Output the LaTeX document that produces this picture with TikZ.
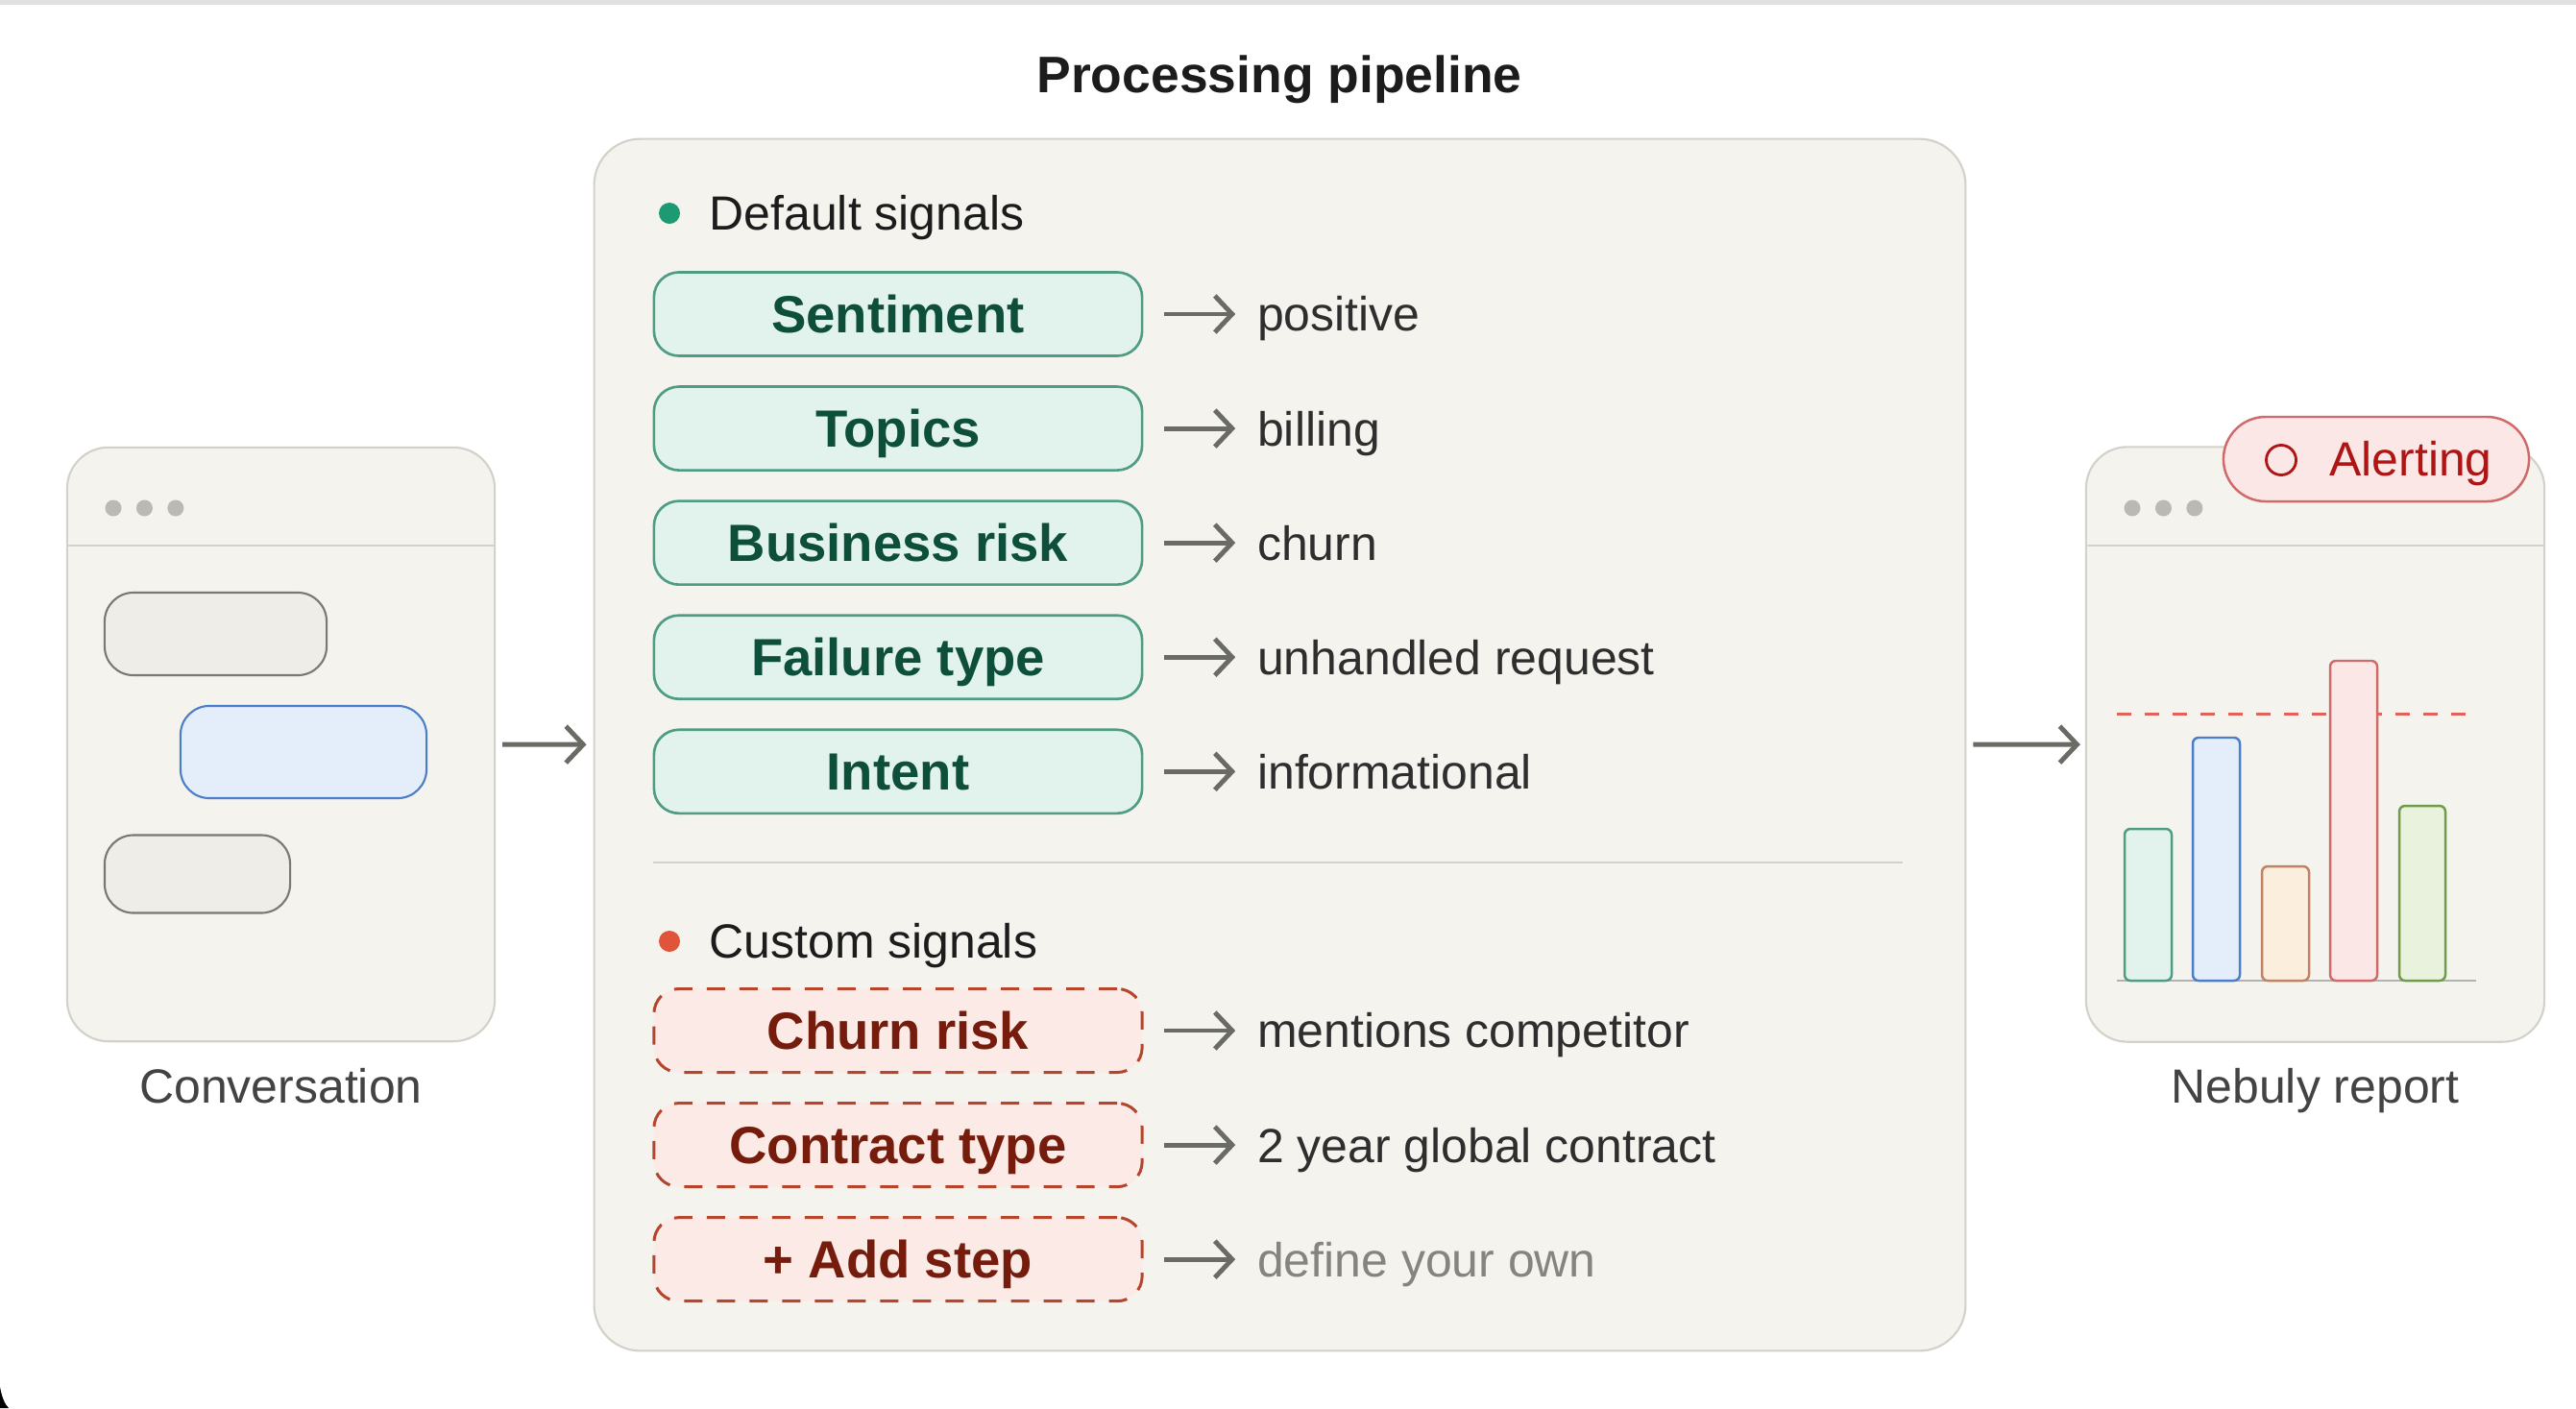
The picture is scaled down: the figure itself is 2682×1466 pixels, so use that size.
\documentclass[tikz,border=0pt]{standalone}
\usepackage{fontspec}
\setmainfont{Liberation Sans}
\usetikzlibrary{positioning,arrows.meta}

\definecolor{panelbg}{HTML}{F4F3EE}
\definecolor{panelln}{HTML}{D3D1C9}
\definecolor{arrowgray}{HTML}{6B6B66}
\definecolor{inkdark}{HTML}{1C1C1C}
\definecolor{inkval}{HTML}{2E2E2E}
\definecolor{inkmute}{HTML}{85847F}
\definecolor{dotgray}{HTML}{BAB9B4}
\definecolor{tealln}{HTML}{4E9C84}
\definecolor{tealbg}{HTML}{E1F3EC}
\definecolor{tealtx}{HTML}{0D4F3A}
\definecolor{tealdot}{HTML}{1E9A72}
\definecolor{rustln}{HTML}{B5452C}
\definecolor{rustbg}{HTML}{FBEAE6}
\definecolor{rusttx}{HTML}{761C0C}
\definecolor{rustdot}{HTML}{E0553A}
\definecolor{bubblebg}{HTML}{EFEDE7}
\definecolor{bubbleln}{HTML}{7A7873}
\definecolor{bluebg}{HTML}{E4EEFB}
\definecolor{blueln}{HTML}{4A7EC8}
\definecolor{alertbg}{HTML}{FCE7E7}
\definecolor{alertln}{HTML}{D06A6A}
\definecolor{alerttx}{HTML}{B01515}
\definecolor{threshred}{HTML}{E0625A}
\definecolor{barorange}{HTML}{C08264}
\definecolor{barorbg}{HTML}{FBEEDD}
\definecolor{bargreen}{HTML}{6E9C48}
\definecolor{bargrbg}{HTML}{E8F2DC}

\begin{document}
\begin{tikzpicture}
    [x=0.01cm, y=-0.01cm,
    node distance=0.32cm,
    flow/.style={draw=arrowgray, line width=1.4pt, -{Straight Barb[length=1.8mm,width=3.8mm,line width=1.4pt]}},
    panel/.style={draw=panelln, fill=panelbg, line width=0.6pt, rounded corners=0.48cm, inner sep=0pt, outer sep=0pt},
    win/.style={panel, rounded corners=0.43cm},
    winline/.style={draw=panelln, line width=0.6pt},
    winbtn/.style={circle, fill=dotgray, inner sep=0pt, minimum size=0.17cm},
    bubble/.style={draw=bubbleln, fill=bubblebg, line width=0.6pt, rounded corners=0.3cm, inner sep=0pt, minimum height=0.86cm},
    sigbox/.style={draw=tealln, fill=tealbg, text=tealtx, line width=0.75pt, rounded corners=0.26cm,
        minimum width=5.08cm, minimum height=0.87cm, inner sep=0pt, outer sep=0pt,
        text height=11.1pt, text depth=0pt, font=\fontsize{15.5}{18}\selectfont\bfseries},
    custbox/.style={sigbox, draw=rustln, fill=rustbg, text=rusttx, dash pattern=on 0.19cm off 0.15cm, line width=0.85pt},
    val/.style={inner sep=0pt, outer sep=0pt, anchor=west, text=inkval, text height=10.2pt, text depth=0pt,
        font=\fontsize{14.2}{17}\selectfont},
    head/.style={val, text=inkdark},
    caption/.style={inner sep=0pt, text=inkval!90!white, text height=10.2pt, text depth=0pt,
        font=\fontsize{14.2}{17}\selectfont},
    bullet/.style={circle, inner sep=0pt, minimum size=0.22cm},
    bar/.style={line width=0.7pt, rounded corners=0.06cm}]

    \fill[white] (0,0) rectangle (2682,1466);
    \useasboundingbox (0,0) rectangle (2682,1466);
    \fill[black!12] (0,0) rectangle (2682,5);
    \fill[black] (0,1444) .. controls (2,1455) and (5,1462) .. (9,1466) -- (0,1466) -- cycle;

    %% title
    \node[inner sep=0pt, text=inkdark, text height=10.9pt, text depth=0pt,
        font=\fontsize{15.2}{18}\selectfont\bfseries] (ttl) at (1332,77) {Processing pipeline};

    %% pipeline panel
    \node[panel, minimum width=14.27cm, minimum height=12.61cm] (pipe) at (1332.5,775.5) {};

    \node[bullet, fill=tealdot] (ddot) at (697,222) {};
    \node[head, right=0.3cm of ddot] (dhead) {Default signals};

    \node[sigbox] (sent) at (935,327) {Sentiment};
    \node[sigbox, below=of sent] (topic) {Topics};
    \node[sigbox, below=of topic] (risk) {Business risk};
    \node[sigbox, below=of risk] (fail) {Failure type};
    \node[sigbox, below=of fail] (intent) {Intent};

    \node[val, right=1.2cm of sent] (sentv) {positive};
    \node[val, right=1.2cm of topic] (topicv) {billing};
    \node[val, right=1.2cm of risk] (riskv) {churn};
    \node[val, right=1.2cm of fail] (failv) {unhandled request};
    \node[val, right=1.2cm of intent] (intentv) {informational};

    \draw[flow, shorten <=0.23cm, shorten >=0.23cm] (sent) -- (sentv);
    \draw[flow, shorten <=0.23cm, shorten >=0.23cm] (topic) -- (topicv);
    \draw[flow, shorten <=0.23cm, shorten >=0.23cm] (risk) -- (riskv);
    \draw[flow, shorten <=0.23cm, shorten >=0.23cm] (fail) -- (failv);
    \draw[flow, shorten <=0.23cm, shorten >=0.23cm] (intent) -- (intentv);

    \draw[winline] (680,898) -- (1981,898);

    \node[bullet, fill=rustdot] (cdot) at (697,980) {};
    \node[head, right=0.3cm of cdot] (chead) {Custom signals};

    \node[custbox] (churn) at (935,1073) {Churn risk};
    \node[custbox, below=of churn] (contract) {Contract type};
    \node[custbox, below=of contract] (addstep) {+ Add step};

    \node[val, right=1.2cm of churn] (churnv) {mentions competitor};
    \node[val, right=1.2cm of contract] (contractv) {2 year global contract};
    \node[val, right=1.2cm of addstep, text=inkmute] (addstepv) {define your own};

    \draw[flow, shorten <=0.23cm, shorten >=0.23cm] (churn) -- (churnv);
    \draw[flow, shorten <=0.23cm, shorten >=0.23cm] (contract) -- (contractv);
    \draw[flow, shorten <=0.23cm, shorten >=0.23cm] (addstep) -- (addstepv);

    %% conversation window
    \node[win, minimum width=4.45cm, minimum height=6.18cm] (conv) at (292.5,775) {};
    \draw[winline] (conv.west |- 0,568) -- (conv.east |- 0,568);
    \node[winbtn] (cb1) at (118,529) {};
    \node[winbtn, right=0.14cm of cb1] (cb2) {};
    \node[winbtn, right=0.14cm of cb2] (cb3) {};
    \node[bubble, minimum width=2.31cm] (msg1) at (224.5,660) {};
    \node[bubble, draw=blueln, fill=bluebg, minimum width=2.56cm, minimum height=0.96cm] (msg2) at (316,783) {};
    \node[bubble, minimum width=1.93cm, minimum height=0.81cm] (msg3) at (205.5,910) {};
    \node[caption] (convl) at (292.5,1131) {Conversation};

    %% report window
    \node[win, minimum width=4.77cm, minimum height=6.19cm] (rep) at (2410.5,775) {};
    \draw[winline] (rep.west |- 0,568) -- (rep.east |- 0,568);
    \node[winbtn] (rb1) at (2220,529) {};
    \node[winbtn, right=0.14cm of rb1] (rb2) {};
    \node[winbtn, right=0.14cm of rb2] (rb3) {};

    \draw[black!30, line width=0.6pt] (2204,1021) -- (2578,1021);
    \draw[threshred, line width=0.85pt, dash pattern=on 0.15cm off 0.14cm] (2204,743) -- (2578,743);
    \draw[bar, draw=tealln, fill=tealbg] (2212,1021) rectangle (2261,863);
    \draw[bar, draw=blueln, fill=bluebg] (2283,1021) rectangle (2332,768);
    \draw[bar, draw=barorange, fill=barorbg] (2355,1021) rectangle (2404,902);
    \draw[bar, draw=alertln, fill=alertbg] (2426,1021) rectangle (2475,688);
    \draw[bar, draw=bargreen, fill=bargrbg] (2498,1021) rectangle (2546,839);

    \node[draw=alertln, fill=alertbg, line width=0.7pt, rounded corners=0.44cm,
        minimum width=3.18cm, minimum height=0.88cm, inner sep=0pt] (alert) at (2474,478) {};
    \node[circle, draw=alerttx, line width=0.8pt, minimum size=0.31cm, inner sep=0pt] (ring) at (2375,479) {};
    \node[caption, text=alerttx] (alertl) at (2510,478) {Alerting};
    \node[caption] (repl) at (2410.5,1131) {Nebuly report};

    %% flow between stages
    \draw[flow, shorten <=0.08cm, shorten >=0.08cm] (conv) -- (pipe);
    \draw[flow, shorten <=0.08cm, shorten >=0.06cm] (pipe) -- (rep);
\end{tikzpicture}
\end{document}
